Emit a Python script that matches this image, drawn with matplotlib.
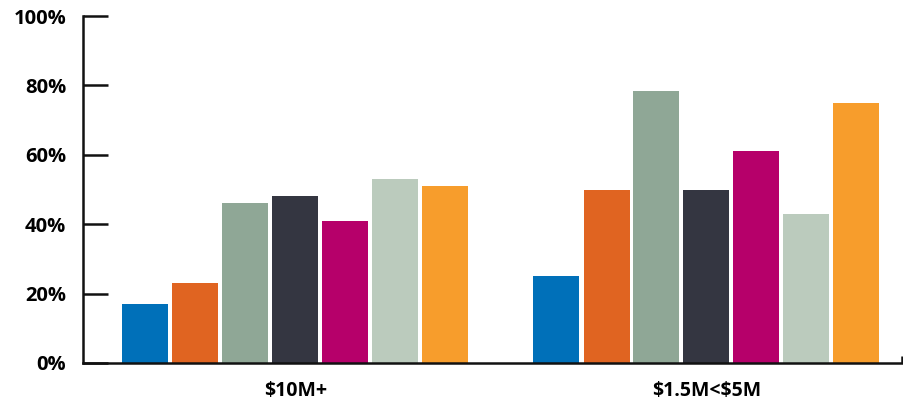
import numpy as np
import matplotlib.pyplot as plt

plt.rcParams["font.family"] = ["Open Sans", "DejaVu Sans"]

groups = ["\\$10M+", "\\$1.5M<\\$5M"]
series_colors = ["#0070B9", "#E06421", "#8FA796", "#343641", "#B6006A", "#BBCBBD", "#F79D2C"]
values = [
    [17, 23, 46, 48, 41, 53, 51],
    [25, 50, 78.5, 50, 61, 43, 75],
]
yticks = [0, 20, 40, 60, 80, 100]
ytick_labels = ["0%", "20%", "40%", "60%", "80%", "100%"]

fig = plt.figure(figsize=(9.04, 4.03), dpi=100)
ax = fig.add_axes([83 / 904, 40 / 403, 819 / 904, 347 / 403])

n = len(series_colors)
pitch = 1 / 8.22
width = pitch * 0.92
x = np.arange(len(groups))
for i, color in enumerate(series_colors):
    offs = (i - (n - 1) / 2) * pitch
    ax.bar(x + offs, [v[i] for v in values], width=width, color=color, zorder=2)

xmin, xmax = -4.25 * pitch, 1 + 3.91 * pitch
ax.set_xlim(xmin, xmax)
ax.set_ylim(0, 100)

ax.set_yticks(yticks)
ax.set_yticklabels(ytick_labels, fontsize=14.5, fontweight="bold")
ax.tick_params(axis="y", direction="in", length=18, width=1.8, color="#111111", pad=12)

ax.set_xticks(x)
ax.set_xticklabels(groups, fontsize=14, fontweight="bold")
ax.tick_params(axis="x", length=0, pad=13)
ax.set_xticks([xmax], minor=True)
ax.tick_params(axis="x", which="minor", direction="in", length=5, width=1.8, color="#111111")

for s in ["top", "right"]:
    ax.spines[s].set_visible(False)
for s in ["left", "bottom"]:
    ax.spines[s].set_linewidth(1.8)
    ax.spines[s].set_color("#111111")
ax.spines["bottom"].set_zorder(3)

fig.savefig("out.png", dpi=100)
